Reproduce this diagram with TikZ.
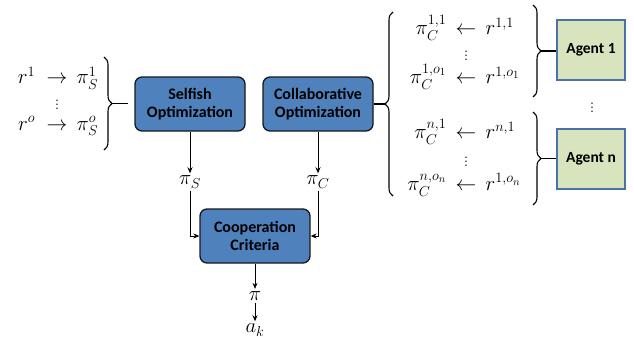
\documentclass[tikz,border=0pt]{standalone}
\usepackage{mathtools}
\usepackage{fontspec}
\setsansfont{Carlito}
\usetikzlibrary{arrows.meta,decorations.pathreplacing}

\definecolor{boxblue}{HTML}{4F81BD}
\definecolor{agentgreen}{HTML}{D7E4BD}
\definecolor{agentedge}{HTML}{4A72A8}

\tikzset{
  optbox/.style={draw=black!90, line width=1.3pt, fill=boxblue, rounded corners=7pt,
    minimum width=110pt, minimum height=54pt, align=center, inner sep=2pt,
    font=\sffamily\bfseries\fontsize{16}{18.5}\selectfont},
  agentbox/.style={draw=agentedge, line width=1.2pt, fill=agentgreen,
    minimum width=68pt, minimum height=60pt,
    font=\sffamily\bfseries\fontsize{15.5}{18}\selectfont},
  mathlbl/.style={font=\fontsize{22}{26}\selectfont, inner sep=1pt},
  outlbl/.style={font=\fontsize{22}{26}\selectfont, inner sep=2.5pt},
  dotslbl/.style={font=\fontsize{18}{22}\selectfont, inner sep=0pt},
  bracestyle/.style={decorate, decoration={brace, amplitude=8pt}, line width=1.1pt},
  arr/.style={-{Stealth[length=6pt,width=5pt]}, line width=0.9pt},
  link/.style={line width=1.1pt}
}

\begin{document}
\begin{tikzpicture}[x=1pt,y=-1pt]
\useasboundingbox (0,0) rectangle (634,345);

% processing blocks
\node[optbox] (selfish) at (190,104) {Selfish\\Optimization};
\node[optbox] (collab)  at (318,104) {Collaborative\\Optimization};
\node[optbox] (coop)    at (255,236) {Cooperation\\Criteria};

% agents
\node[agentbox] (agent1) at (591,50)  {Agent 1};
\node[agentbox] (agentn) at (591,159) {Agent n};
\node[dotslbl] (agdots) at (592,105) {$\vdots$};

% selfish rewards and policies
\node[mathlbl] (s1) at (57,78)  {$\mathllap{r^1\;}\to\mathrlap{\,\pi_S^1}$};
\node[dotslbl] (sd) at (57,102) {$\vdots$};
\node[mathlbl] (so) at (57,126) {$\mathllap{r^o\;}\to\mathrlap{\,\pi_S^o}$};

% collaborative policies and rewards
\node[mathlbl] (c11) at (466,28)  {$\mathllap{\pi_C^{1,1}\,}\leftarrow\mathrlap{\,r^{1,1}}$};
\node[dotslbl] (c1d) at (466,53)  {$\vdots$};
\node[mathlbl] (c1o) at (466,77)  {$\mathllap{\pi_C^{1,o_1}\,}\leftarrow\mathrlap{\,r^{1,o_1}}$};
\node[mathlbl] (cn1) at (466,132) {$\mathllap{\pi_C^{n,1}\,}\leftarrow\mathrlap{\,r^{n,1}}$};
\node[dotslbl] (cnd) at (466,159) {$\vdots$};
\node[mathlbl] (cno) at (466,185) {$\mathllap{\pi_C^{n,o_n}\,}\leftarrow\mathrlap{\,r^{1,o_n}}$};

% intermediate and final outputs
\node[outlbl] (piS) at (190,182) {$\pi_S$};
\node[outlbl] (piC) at (318,182) {$\pi_C$};
\node[outlbl] (pi)  at (255,296) {$\pi$};
\node[outlbl] (ak)  at (255,330) {$a_k$};

% braces
\draw[bracestyle] (104,57) -- (104,150);
\coordinate (lbtip) at (112,103.5);
\coordinate (lbend) at (128,103.5);
\draw[link] (lbtip) -- (lbend);

\draw[bracestyle] (393,196) -- (393,12);
\coordinate (rbtip) at (385,104);
\draw[link] (collab.east) -- (rbtip);

\draw[bracestyle] (533,5) -- (533,97);
\coordinate (a1tip) at (541,51);
\draw[link] (a1tip) -- (agent1.west |- a1tip);

\draw[bracestyle] (533,112) -- (533,205);
\coordinate (antip) at (541,158.5);
\draw[link] (antip) -- (agentn.west |- antip);

% flow arrows
\draw[arr] (selfish.south) -- (piS.north);
\draw[arr] (collab.south) -- (piC.north);
\draw[arr] (piS.south) |- (coop.west);
\draw[arr] (piC.south) |- (coop.east);
\draw[arr] (coop.south) -- (pi.north);
\draw[arr] (pi.south) -- (ak.north);
\end{tikzpicture}
\end{document}
